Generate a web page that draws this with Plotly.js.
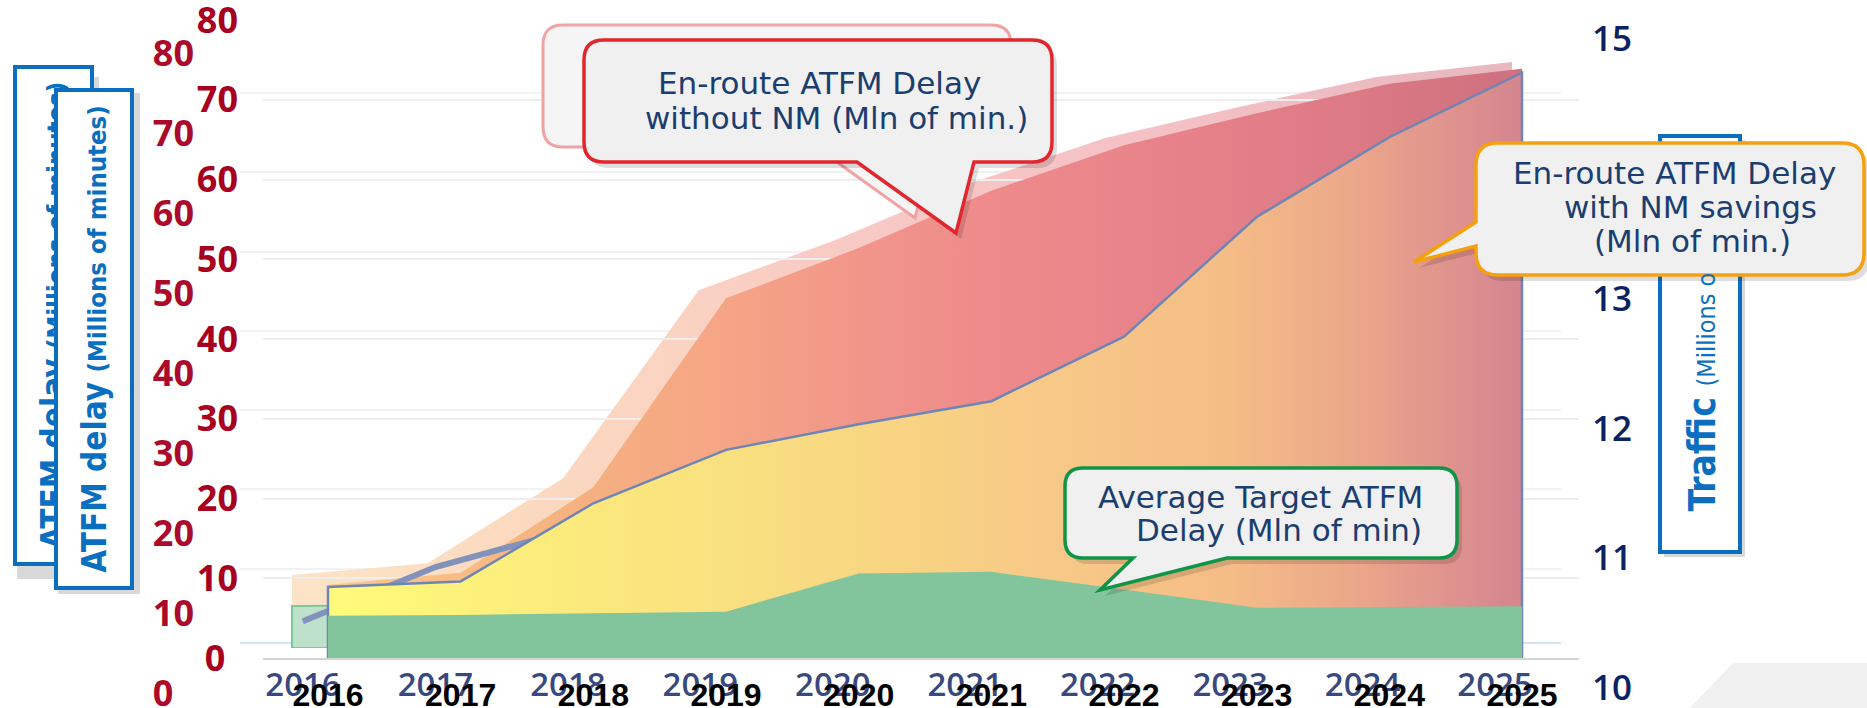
<!DOCTYPE html>
<html><head><meta charset="utf-8">
<script src="https://cdn.plot.ly/plotly-3.0.1.min.js"></script>
<style>html,body{margin:0;padding:0;background:#fff}#chart{width:1867px;height:708px}</style>
</head><body><div id="chart"></div>
<script>
// ---------------- data ----------------
const years = [2016, 2017, 2018, 2019, 2020, 2021, 2022, 2023, 2024, 2025];
const delayWithoutNM = [9.2, 10.7, 21.4, 45.1, 51.4, 58.6, 64.3, 68.3, 72.0, 73.9];
const delayWithNM    = [8.9, 9.6, 19.4, 26.1, 29.3, 32.2, 40.3, 55.3, 65.3, 73.4];
const targetDelay    = [5.3, 5.4, 5.6, 5.8, 10.6, 10.8, 8.6, 6.3, 6.4, 6.5];
// thick faded line seen at the left (in front-axis units)
const fadedLineX = [2015.81, 2016.81, 2017.80];
const fadedLineY = [4.6, 11.4, 15.9];
const delayTicks = [0, 10, 20, 30, 40, 50, 60, 70, 80];
const trafficTicks = [10, 11, 12, 13, 14, 15];
const yearLabels = years.map(String);

// ---------------- helpers ----------------
const W = 1867, H = 708;
const px = x => x / W, py = y => 1 - y / H;
const P = (x, y) => px(x).toFixed(5) + ',' + py(y).toFixed(5);

function closedX(xs){ return [xs[0]].concat(xs, [xs[xs.length-1]]); }
function closedY(ys){ return [0].concat(ys, [0]); }

function callout(b, tail){
  const {x0,y0,x1,y1,r} = b;
  let d = 'M' + P(x0+r,y0) + ' L' + P(x1-r,y0) + ' Q' + P(x1,y0) + ' ' + P(x1,y0+r) +
          ' L' + P(x1,y1-r) + ' Q' + P(x1,y1) + ' ' + P(x1-r,y1);
  if (tail && tail.side === 'bottom') d += ' L' + P(tail.a[0],tail.a[1]) + ' L' + P(tail.tip[0],tail.tip[1]) + ' L' + P(tail.c[0],tail.c[1]);
  d += ' L' + P(x0+r,y1) + ' Q' + P(x0,y1) + ' ' + P(x0,y1-r);
  if (tail && tail.side === 'left') d += ' L' + P(tail.a[0],tail.a[1]) + ' L' + P(tail.tip[0],tail.tip[1]) + ' L' + P(tail.c[0],tail.c[1]);
  d += ' L' + P(x0,y0+r) + ' Q' + P(x0,y0) + ' ' + P(x0+r,y0) + ' Z';
  return d;
}
function shift(b, tail, dx, dy){
  const nb = {x0:b.x0+dx, y0:b.y0+dy, x1:b.x1+dx, y1:b.y1+dy, r:b.r};
  const nt = tail ? {side:tail.side, a:[tail.a[0]+dx,tail.a[1]+dy], tip:[tail.tip[0]+dx,tail.tip[1]+dy], c:[tail.c[0]+dx,tail.c[1]+dy]} : null;
  return callout(nb, nt);
}
function fade(hex, a){
  const n = parseInt(hex.slice(1), 16);
  const r = (n >> 16) & 255, g = (n >> 8) & 255, b = n & 255;
  const m = c => Math.round(255 - a * (255 - c));
  return 'rgb(' + m(r) + ',' + m(g) + ',' + m(b) + ')';
}
// tick text for zero, padded on the right with an invisible glyph so it sits like the original
const padZero = size => "0<span style='font-size:" + size + "px;color:rgba(0,0,0,0)'>0</span>";

const yellowScale = [[0,'#fffb7a'],[0.2,'#fbea7c'],[0.35,'#f9df80'],[0.5,'#f8d283'],[0.6,'#f7c988'],[0.75,'#f5bd86'],[0.86,'#eba78a'],[0.93,'#e1958d'],[1,'#d4858f']];
const redScale    = [[0,'#f9c88c'],[0.2,'#f6b27f'],[0.33,'#f5a585'],[0.45,'#f1958a'],[0.56,'#ee8a8a'],[0.7,'#e8828a'],[0.82,'#df7c87'],[1,'#cf707f']];
const ghostRedScale = redScale.map(s => [s[0], fade(s[1], 0.5)]);

// ---------------- traces ----------------
const traces = [
  // faded back copy
  {x: closedX(years), y: closedY(delayWithoutNM), xaxis:'x', yaxis:'y', mode:'lines', line:{width:0}, fill:'tozeroy',
   fillgradient:{type:'horizontal', start:2016, stop:2025, colorscale:ghostRedScale}, hoverinfo:'skip', showlegend:false},
  {x: closedX(years).concat([2016]), y: closedY(targetDelay).concat([0]), xaxis:'x', yaxis:'y', mode:'lines',
   line:{width:2, color:'#7cc799'}, fill:'toself', fillcolor:'#bde1cb', hoverinfo:'skip', showlegend:false},
  {x:[2016], y:[0], xaxis:'x2', yaxis:'y2', mode:'markers', marker:{opacity:0}, hoverinfo:'skip', showlegend:false},
  // front chart
  {x: closedX(years), y: closedY(delayWithoutNM), xaxis:'x3', yaxis:'y3', mode:'lines', line:{width:0}, fill:'tozeroy',
   fillgradient:{type:'horizontal', start:2016, stop:2025, colorscale:redScale}, hoverinfo:'skip', showlegend:false},
  {x: fadedLineX, y: fadedLineY, xaxis:'x3', yaxis:'y3', mode:'lines', line:{width:6, color:'#8193bd'},
   hoverinfo:'skip', showlegend:false, cliponaxis:false},
  {x: closedX(years), y: closedY(delayWithNM), xaxis:'x3', yaxis:'y3', mode:'lines', line:{width:2.5, color:'#6f85b6'}, fill:'tozeroy',
   fillgradient:{type:'horizontal', start:2016, stop:2025, colorscale:yellowScale}, hoverinfo:'skip', showlegend:false},
  {x: closedX(years), y: closedY(targetDelay), xaxis:'x3', yaxis:'y3', mode:'lines', line:{width:0}, fill:'tozeroy',
   fillcolor:'#82c59c', hoverinfo:'skip', showlegend:false},
  {x:[2016], y:[10], xaxis:'x3', yaxis:'y4', mode:'markers', marker:{opacity:0}, hoverinfo:'skip', showlegend:false}
];

// ---------------- shapes ----------------
const redB = {x0:584, y0:40, x1:1052, y1:162, r:20};
const redT = {side:'bottom', a:[974,162], tip:[956,233], c:[857,162]};
const greenB = {x0:1065, y0:468, x1:1457, y1:558, r:18};
const greenT = {side:'bottom', a:[1227,558], tip:[1100,590], c:[1133,558]};
const orangeB = {x0:1476, y0:143, x1:1864, y1:275, r:22};
const orangeT = {side:'left', a:[1476,246], tip:[1414,262], c:[1476,222]};

const shadow = 'rgba(0,0,0,0.13)';
const shapes = [
  {type:'path', xref:'paper', yref:'paper', layer:'below', line:{width:0}, fillcolor:'#f0f0f0',
   path:'M'+P(1733,663)+' L'+P(1867,663)+' L'+P(1867,708)+' L'+P(1690,708)+' Z'},
  {type:'line', xref:'paper', yref:'paper', layer:'below', x0:px(240), x1:px(1561), y0:py(643), y1:py(643), line:{color:'#cfe5f7', width:2}},
  // ATFM box shadows
  {type:'rect', xref:'paper', yref:'paper', x0:px(17), x1:px(99), y0:py(77), y1:py(579), line:{width:0}, fillcolor:'rgba(0,0,0,0.15)'},
  {type:'rect', xref:'paper', yref:'paper', x0:px(58), x1:px(140), y0:py(93), y1:py(594), line:{width:0}, fillcolor:'rgba(0,0,0,0.15)'},
  // traffic box
  {type:'rect', xref:'paper', yref:'paper', x0:px(1664), x1:px(1745), y0:py(140), y1:py(557), line:{width:0}, fillcolor:'rgba(0,0,0,0.15)'},
  {type:'rect', xref:'paper', yref:'paper', x0:px(1660), x1:px(1740), y0:py(136), y1:py(552), line:{width:4, color:'#0b6fc1'}, fillcolor:'#ffffff'},
  // faded red callout
  {type:'path', xref:'paper', yref:'paper', line:{width:3, color:'#f0a3a3'}, fillcolor:'#f5f5f5', path: shift(redB, redT, -41, -15)},
  // red callout
  {type:'path', xref:'paper', yref:'paper', line:{width:0}, fillcolor:shadow, path: shift(redB, redT, 5, 6)},
  {type:'path', xref:'paper', yref:'paper', line:{width:3.5, color:'#e2262d'}, fillcolor:'#f0f0f0', path: callout(redB, redT)},
  // green callout
  {type:'path', xref:'paper', yref:'paper', line:{width:0}, fillcolor:shadow, path: shift(greenB, greenT, 5, 6)},
  {type:'path', xref:'paper', yref:'paper', line:{width:3.5, color:'#109447'}, fillcolor:'#f0f0f0', path: callout(greenB, greenT)},
  // orange callout
  {type:'path', xref:'paper', yref:'paper', line:{width:0}, fillcolor:shadow, path: shift(orangeB, orangeT, 5, 6)},
  {type:'path', xref:'paper', yref:'paper', line:{width:3.5, color:'#f5a00f'}, fillcolor:'#f0f0f0', path: callout(orangeB, orangeT)}
];

// ---------------- annotations ----------------
const calloutFont = {family:'DejaVu Sans, Verdana, sans-serif', size:31, color:'#1b3e70'};
function txt(t, cx, cy){ return {text:t, xref:'paper', yref:'paper', x:px(cx), y:py(cy), xanchor:'center', yanchor:'middle', showarrow:false, font:calloutFont}; }
const narrow = 'DejaVu Sans Condensed, Liberation Sans Narrow, Roboto, sans-serif';
const atfmText = "<b>ATFM delay</b> <b><span style='font-size:25.5px'>(Millions of minutes)</span></b>";
const annotations = [
  {text: atfmText, xref:'paper', yref:'paper', x:px(53), y:py(316), xanchor:'center', yanchor:'middle', textangle:-90,
   width:493, height:73, bgcolor:'#ffffff', bordercolor:'#0b6fc1', borderwidth:4, borderpad:0, showarrow:false,
   font:{family:narrow, size:33, color:'#0b6fc1'}},
  {text: atfmText, xref:'paper', yref:'paper', x:px(94), y:py(339), xanchor:'center', yanchor:'middle', textangle:-90,
   width:494, height:72, bgcolor:'#ffffff', bordercolor:'#0b6fc1', borderwidth:4, borderpad:0, showarrow:false,
   font:{family:narrow, size:33, color:'#0b6fc1'}},
  {text:"<b>Traffic</b> <span style='font-size:25px'>(Millions o</span>", xref:'paper', yref:'paper', x:px(1702), y:py(514),
   xanchor:'center', yanchor:'bottom', textangle:-90, showarrow:false, font:{family:narrow, size:37, color:'#0b6fc1'}},
  txt('En-route ATFM Delay', 819, 83),
  txt('without NM (Mln of min.)', 836, 118),
  txt('En-route ATFM Delay', 1674, 173),
  txt('with NM savings', 1690, 207),
  txt('(Mln of min.)', 1692, 241),
  txt('Average Target ATFM', 1260, 497),
  txt('Delay (Mln of min)', 1279, 530)
];

// ---------------- layout ----------------
const fpx = 132.667;            // front px per year
const gpx = 135.56;             // back copy px per year
const layout = {
  width: W, height: H, margin:{l:0, r:0, t:0, b:0},
  paper_bgcolor:'#ffffff', plot_bgcolor:'rgba(0,0,0,0)', showlegend:false,
  // back copy data axes
  xaxis:{domain:[px(240), px(1561)], range:[2016 - 52/gpx, 2025 + 49/gpx], anchor:'y', showticklabels:false, showgrid:false, zeroline:false, showline:false},
  yaxis:{domain:[py(648), py(648 - 80*7.93)], range:[0,80], anchor:'x', showticklabels:false, showgrid:true, gridcolor:'#f2f2f2', gridwidth:2, zeroline:false, tickvals:delayTicks},
  // back copy label axes
  xaxis2:{domain:[px(303), px(1495)], range:[2016, 2025], anchor:'free', position:py(662), tickvals:years, ticktext:yearLabels,
          showgrid:false, zeroline:false, showline:false, ticks:'', ticklabelstandoff:0, ticklabeloverflow:'allow',
          tickfont:{family:'Open Sans, sans-serif', size:33, weight:600, color:'rgba(18,40,104,0.85)'}},
  yaxis2:{domain:[py(693), py(53)], range:[0,80], anchor:'free', position:px(194), tickvals:delayTicks, ticktext:delayTicks.map(v => v===0 ? padZero(36) : String(v)),
          showgrid:false, zeroline:false, showline:false, ticks:'', ticklabelstandoff:0, ticklabeloverflow:'allow',
          tickfont:{family:'Open Sans, sans-serif', size:36, weight:700, color:'#ab0a2b'}},
  // front axes
  xaxis3:{domain:[px(263), px(1579)], range:[2016 - 65/fpx, 2025 + 57/fpx], anchor:'y3', tickvals:years, ticktext:yearLabels,
          showgrid:false, zeroline:false, showline:true, linecolor:'#d4d4d4', linewidth:2, ticks:'', ticklabelstandoff:8, ticklabeloverflow:'allow',
          tickfont:{family:'Liberation Sans, Arial, sans-serif', size:32, weight:700, color:'#000000'}},
  yaxis3:{domain:[py(658), py(20)], range:[0,80], anchor:'x3', tickvals:delayTicks, ticktext:delayTicks.map(v => v===0 ? padZero(22) : String(v)),
          showgrid:true, gridcolor:'#eeeeee', gridwidth:2, zeroline:false, showline:false, ticks:'', ticklabelstandoff:24, ticklabeloverflow:'allow',
          tickfont:{family:'Open Sans, sans-serif', size:36, weight:700, color:'#a8001f'}},
  yaxis4:{domain:[py(688), py(39)], range:[10,15], anchor:'free', position:px(1589), side:'right', tickvals:trafficTicks,
          showgrid:false, zeroline:false, showline:false, ticks:'', ticklabelstandoff:2, ticklabeloverflow:'allow',
          tickfont:{family:'Open Sans, sans-serif', size:35, weight:600, color:'#0c2262'}},
  shapes: shapes,
  annotations: annotations
};

Plotly.newPlot('chart', traces, layout, {staticPlot:true, displayModeBar:false});
</script></body></html>
